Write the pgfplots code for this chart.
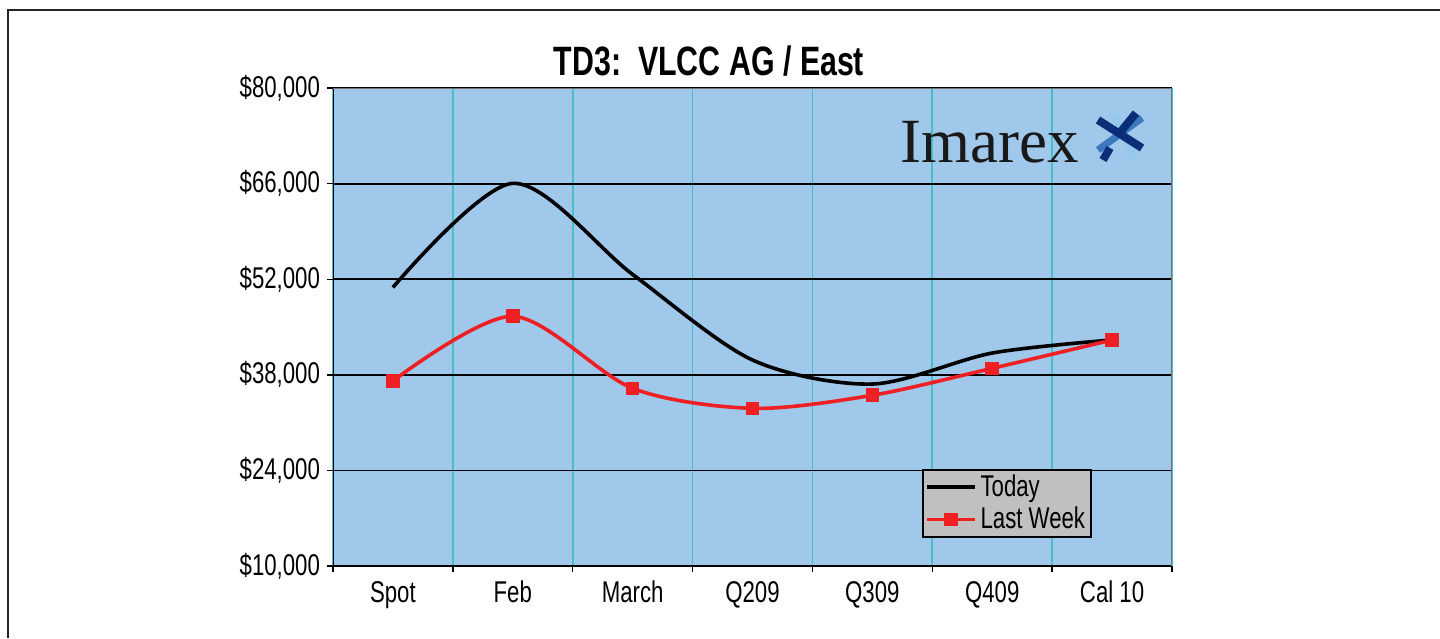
\documentclass[border=0pt]{standalone}
\usepackage{fontspec}
\setmainfont{Liberation Sans}[FakeStretch=0.74]
\newfontfamily\logofont{Liberation Serif}
\usepackage{pgfplots}
\pgfplotsset{compat=1.18}
\definecolor{plotblue}{RGB}{159,200,234}
\definecolor{gridteal}{RGB}{72,190,200}
\definecolor{lwred}{RGB}{238,32,36}
\definecolor{legendgray}{RGB}{192,192,192}
\definecolor{logonavy}{RGB}{10,45,120}
\definecolor{logomid}{RGB}{60,120,190}
\definecolor{logolight}{RGB}{150,200,235}
\begin{document}
\begin{tikzpicture}[x=1pt,y=1pt]
\path[use as bounding box] (0,0) rectangle (720,319);
\draw[line width=1.2pt, black!85] (4,0) -- (4,314) -- (720,314);
\node[anchor=base, font=\bfseries\fontsize{20.5}{23}\selectfont] at (354.5,281) {TD3:\ \ VLCC AG / East};
\begin{axis}[
  at={(166.5pt,36pt)}, anchor=south west,
  width=419.5pt, height=239pt, scale only axis,
  xmin=-0.5, xmax=6.5, ymin=10000, ymax=80000,
  axis background/.style={fill=plotblue},
  axis line style={draw=none},
  scaled y ticks=false,
  xtick={-0.5,0.5,...,6.5}, xticklabels={},
  extra x ticks={0,1,2,3,4,5,6},
  extra x tick labels={Spot,Feb,March,Q209,Q309,Q409,Cal 10},
  extra x tick style={grid=none, major tick length=0pt,
    xticklabel style={yshift=-4pt}},
  ytick={10000,24000,38000,52000,66000,80000},
  yticklabels={{\$10,000},{\$24,000},{\$38,000},{\$52,000},{\$66,000},{\$80,000}},
  xmajorgrids, ymajorgrids,
  x grid style={gridteal, line width=0.9pt},
  y grid style={black, line width=0.9pt},
  tick align=outside, tick pos=left,
  major tick length=3pt,
  tick style={black, line width=0.7pt},
  ticklabel style={font=\fontsize{15}{17}\selectfont},
  legend style={at={(0.702,0.0586)}, anchor=south west, fill=legendgray,
    draw=black, line width=1pt, font=\fontsize{15}{18}\selectfont,
    inner xsep=1pt, inner ysep=0.5pt, legend cell align=left},
  legend image code/.code={\draw[mark repeat=2,mark phase=2] plot coordinates {(0pt,0pt) (12pt,0pt) (24pt,0pt)};},
]
\addplot[black, line width=1.8pt, smooth, tension=0.5] coordinates {
(0,50800) (1,66040) (2,52700) (3,40170) (4,36650) (5,41190) (6,43100)};
\addlegendentry{Today}
\addplot[lwred, line width=1.8pt, smooth, tension=0.5, mark=square*, mark size=2.5pt, mark options={solid}] coordinates {
(0,37100) (1,46570) (2,36020) (3,33090) (4,35000) (5,38950) (6,43100)};
\addlegendentry{Last Week}
\draw[black, line width=1pt] (rel axis cs:0,1) -- (rel axis cs:0,0) -- (rel axis cs:1,0);
\draw[black!55, line width=1pt] (rel axis cs:0,1) -- (rel axis cs:1,1) -- (rel axis cs:1,0);
\end{axis}
\node[anchor=base west, inner sep=0pt, text=black!90, font=\logofont\fontsize{31.5}{34}\selectfont] at (450,237.5) {Imarex};
\draw[logolight, line width=3.5pt] (556.5,262.5) -- (567.5,240);
\draw[logomid, line width=3.5pt] (571,260) -- (549,244);
\draw[logonavy, line width=4pt] (549,259) -- (571,245);
\draw[logonavy, line width=4pt] (568,262.5) -- (559,251.5);
\draw[logonavy, line width=4pt] (555,245) -- (551.5,239);
\end{tikzpicture}
\end{document}
